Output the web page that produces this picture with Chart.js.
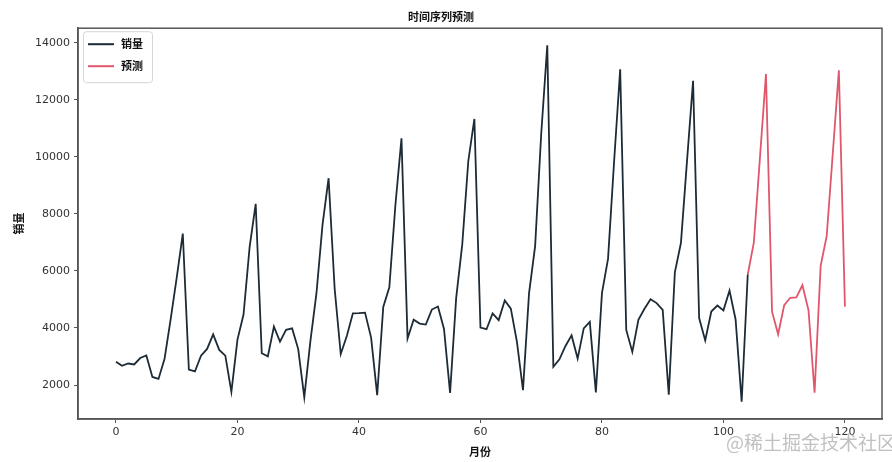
<!DOCTYPE html>
<html lang="zh">
<head>
<meta charset="utf-8">
<title>时间序列预测</title>
<script src="https://cdn.jsdelivr.net/npm/chart.js@4"></script>
<style>
  html, body { margin: 0; padding: 0; background: #fff; }
  #wrap { position: relative; width: 892px; height: 462px; }
  #watermark {
    position: absolute; left: 726px; top: 428px;
    font: 19px "Noto Sans CJK SC", sans-serif;
    color: rgba(150, 150, 150, 0.6);
    white-space: nowrap;
  }
</style>
</head>
<body>
<div id="wrap">
  <canvas id="chart" width="892" height="462"></canvas>
  <div id="watermark">@稀土掘金技术社区</div>
</div>
<script>
// ── Data ───────────────────────────────────────────────────────
// monthly sales, month index 0..104
const salesValues = [
  2815, 2672, 2755, 2721, 2946, 3036, 2282, 2212, 2922, 4301, 5764, 7312,
  2541, 2475, 3031, 3266, 3776, 3230, 3028, 1759, 3595, 4474, 6838, 8357,
  3113, 3006, 4047, 3523, 3937, 3986, 3260, 1573, 3528, 5211, 7614, 9254,
  5375, 3088, 3718, 4514, 4520, 4539, 3663, 1643, 4739, 5428, 8314, 10651,
  3633, 4292, 4154, 4121, 4647, 4753, 3965, 1723, 5048, 6922, 9858, 11331,
  4016, 3957, 4510, 4276, 4968, 4677, 3523, 1821, 5222, 6872, 10803, 13916,
  2639, 2899, 3370, 3740, 2927, 3986, 4217, 1738, 5221, 6424, 9842, 13076,
  3934, 3162, 4286, 4676, 5010, 4874, 4633, 1659, 5951, 6981, 9851, 12670,
  4348, 3564, 4577, 4788, 4618, 5312, 4298, 1413, 5877,
];

// forecast, month index 104..120
const forecastStart = 104;
const forecastValues = [
  5877, 6990, 9950, 12910, 4570, 3780, 4800, 5060, 5070, 5500,
  4630, 1730, 6180, 7230, 10130, 13040, 4750,
];

const xTicks = [0, 20, 40, 60, 80, 100, 120];
const yTicks = [2000, 4000, 6000, 8000, 10000, 12000, 14000];

const SALES_COLOR = '#1c2b36';
const FORECAST_COLOR = '#e0566b';
const AXIS_COLOR = '#555';
const CJK = '"Noto Sans CJK SC", sans-serif';
const LATIN = '"DejaVu Sans", sans-serif';

// ── Frame + in-plot legend ─────────────────────────────────────
const frameLegend = {
  id: 'frameLegend',
  afterDraw(chart) {
    const { ctx, chartArea: a } = chart;
    ctx.save();
    ctx.strokeStyle = AXIS_COLOR;
    ctx.lineWidth = 1.5;
    ctx.strokeRect(a.left, a.top, a.right - a.left, a.bottom - a.top);

    // legend box (upper left)
    const bx = a.left + 5, by = a.top + 3, bw = 69, bh = 51;
    ctx.beginPath();
    ctx.roundRect(bx + 0.5, by + 0.5, bw, bh, 3);
    ctx.fillStyle = 'rgba(255,255,255,0.9)';
    ctx.fill();
    ctx.strokeStyle = '#d6d6d6';
    ctx.lineWidth = 1;
    ctx.stroke();

    ctx.font = 'bold 11px ' + CJK;
    ctx.textBaseline = 'middle';
    chart.data.datasets.forEach((ds, i) => {
      const y = by + 13 + i * 22;
      ctx.strokeStyle = ds.borderColor;
      ctx.lineWidth = 2;
      ctx.beginPath();
      ctx.moveTo(bx + 5, y);
      ctx.lineTo(bx + 31, y);
      ctx.stroke();
      ctx.fillStyle = '#111';
      ctx.fillText(ds.label, bx + 38, y);
    });
    ctx.restore();
  },
};

// ── Chart ──────────────────────────────────────────────────────
const ctx = document.getElementById('chart').getContext('2d');

new Chart(ctx, {
  type: 'line',
  data: {
    datasets: [
      {
        label: '销量',
        data: salesValues.map((v, i) => ({ x: i, y: v })),
        borderColor: SALES_COLOR,
        borderWidth: 1.8,
        pointRadius: 0,
        tension: 0,
      },
      {
        label: '预测',
        data: forecastValues.map((v, i) => ({ x: forecastStart + i, y: v })),
        borderColor: FORECAST_COLOR,
        borderWidth: 1.8,
        pointRadius: 0,
        tension: 0,
      },
    ],
  },
  options: {
    responsive: false,
    animation: false,
    layout: { padding: { left: 0, right: 10, top: 0, bottom: 0 } },
    plugins: {
      legend: { display: false },
      tooltip: { enabled: false },
      title: {
        display: true,
        text: '时间序列预测',
        color: '#111',
        font: { family: CJK, size: 11, weight: 'bold' },
        padding: { top: 10, bottom: 5 },
      },
    },
    scales: {
      x: {
        type: 'linear',
        min: -6.25,
        max: 126.1,
        afterBuildTicks: s => { s.ticks = xTicks.map(v => ({ value: v })); },
        afterFit: s => { s.height = 43; },
        ticks: {
          color: '#333', font: { family: LATIN, size: 11 }, padding: 3, maxRotation: 0,
          callback: v => String(v),
        },
        grid: { drawOnChartArea: false, tickLength: 4, color: AXIS_COLOR },
        border: { color: AXIS_COLOR, width: 1.5 },
        title: {
          display: true,
          text: '月份',
          color: '#111',
          font: { family: CJK, size: 11, weight: 'bold' },
          padding: { top: 0, bottom: 4 },
        },
      },
      y: {
        min: 808,
        max: 14515,
        afterBuildTicks: s => { s.ticks = yTicks.map(v => ({ value: v })); },
        afterFit: s => { s.width = 78; },
        ticks: {
          color: '#333', font: { family: LATIN, size: 11 }, padding: 4,
          callback: v => String(v),
        },
        grid: { drawOnChartArea: false, tickLength: 4, color: AXIS_COLOR },
        border: { color: AXIS_COLOR, width: 1.5 },
        title: {
          display: true,
          text: '销量',
          color: '#111',
          font: { family: CJK, size: 11, weight: 'bold' },
          padding: { top: 12, bottom: 0 },
        },
      },
    },
  },
  plugins: [frameLegend],
});
</script>
</body>
</html>
